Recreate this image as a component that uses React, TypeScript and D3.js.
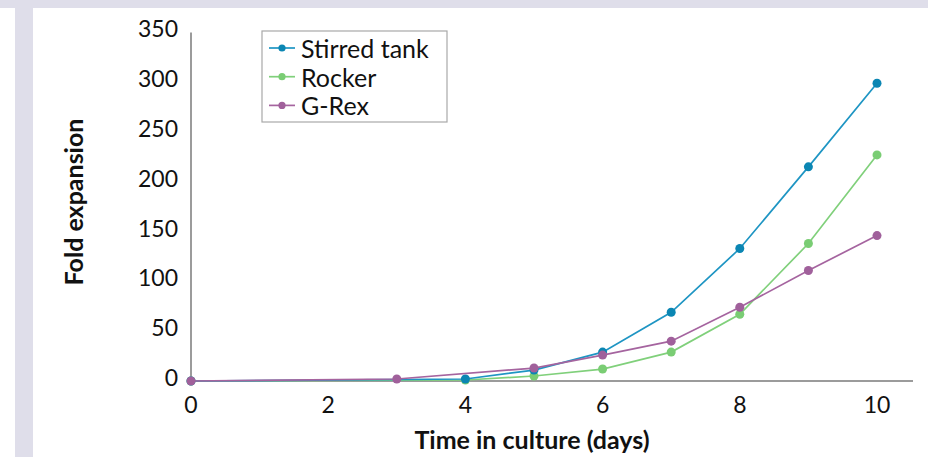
import React from "react";
import * as d3 from "d3";

const xTicks = [0, 2, 4, 6, 8, 10];
const yTicks = [0, 50, 100, 150, 200, 250, 300, 350];

const stirredDays = [0, 4, 5, 6, 7, 8, 9, 10];
const stirredValues = [0, 2, 11, 29, 69, 133, 215, 299];
const rockerDays = [0, 4, 5, 6, 7, 8, 9, 10];
const rockerValues = [0, 1, 5, 12, 29, 67, 138, 227];
const grexDays = [0, 3, 5, 6, 7, 8, 9, 10];
const grexValues = [0, 2, 13, 26, 40, 74, 111, 146];

const seriesNames = ["Stirred tank", "Rocker", "G-Rex"];
const lineColors = ["#1e95c3", "#80d07b", "#a5649f"];
const dotColors = ["#0b86b3", "#7acd74", "#a0609b"];

const W = 928;
const H = 457;
const FONT = "Lato, 'Open Sans', sans-serif";

export default function App() {
  const x = d3.scaleLinear().domain([0, 10]).range([191, 877]);
  const y = d3.scaleLinear().domain([0, 350]).range([381, 32.4]);

  const series = [
    { name: seriesNames[0], days: stirredDays, values: stirredValues, i: 0 },
    { name: seriesNames[1], days: rockerDays, values: rockerValues, i: 1 },
    { name: seriesNames[2], days: grexDays, values: grexValues, i: 2 },
  ];
  const drawOrder = [series[1], series[0], series[2]];

  const line = d3
    .line<[number, number]>()
    .x((d) => x(d[0]))
    .y((d) => y(d[1]));

  const legendX = 262;
  const legendY = 31;
  const rowH = 28.7;

  return (
    <svg
      width={W}
      height={H}
      style={{ position: "absolute", left: 0, top: 0, background: "#fff" }}
      fontFamily={FONT}
    >
      <rect x={0} y={0} width={W} height={8} fill="#dfdeea" />
      <rect x={15} y={8} width={18} height={H - 8} fill="#dfdeea" />

      {/* axes */}
      <line x1={x(0)} x2={x(0)} y1={y(350)} y2={y(0)} stroke="#9b9b9b" strokeWidth={2} />
      <line x1={x(0)} x2={913} y1={y(0)} y2={y(0)} stroke="#9b9b9b" strokeWidth={2.2} />

      {yTicks.map((t) => (
        <text
          key={"y" + t}
          x={178}
          y={y(t) - 4}
          textAnchor="end"
          dominantBaseline="central"
          fontSize={23}
          fill="#111"
        >
          {t}
        </text>
      ))}
      {xTicks.map((t) => (
        <text
          key={"x" + t}
          x={x(t)}
          y={413}
          textAnchor="middle"
          fontSize={23}
          fill="#111"
        >
          {t}
        </text>
      ))}

      <text
        transform={`translate(83,202) rotate(-90)`}
        textAnchor="middle"
        fontSize={25}
        fontWeight="bold"
        fill="#111"
      >
        Fold expansion
      </text>
      <text x={532} y={449} textAnchor="middle" fontSize={25} fontWeight="bold" fill="#111">
        Time in culture (days)
      </text>

      {drawOrder.map((s) => {
        const pts: [number, number][] = s.days.map((d, k) => [d, s.values[k]]);
        return (
          <g key={s.name}>
            <path d={line(pts) || ""} fill="none" stroke={lineColors[s.i]} strokeWidth={1.7} />
            {pts.map((p, k) => (
              <circle key={k} cx={x(p[0])} cy={y(p[1])} r={4.5} fill={dotColors[s.i]} />
            ))}
          </g>
        );
      })}

      {/* legend */}
      <rect
        x={legendX}
        y={legendY}
        width={185}
        height={91}
        fill="#fff"
        stroke="#a8a8a8"
        strokeWidth={1.2}
      />
      {series.map((s, k) => {
        const cy = legendY + 17 + k * rowH;
        return (
          <g key={"lg" + s.name}>
            <line x1={legendX + 7} x2={legendX + 33} y1={cy} y2={cy} stroke={lineColors[s.i]} strokeWidth={1.7} />
            <circle cx={legendX + 20} cy={cy} r={3.6} fill={dotColors[s.i]} />
            <text x={legendX + 39} y={cy} dominantBaseline="central" fontSize={25} fill="#111">
              {s.name}
            </text>
          </g>
        );
      })}
    </svg>
  );
}
